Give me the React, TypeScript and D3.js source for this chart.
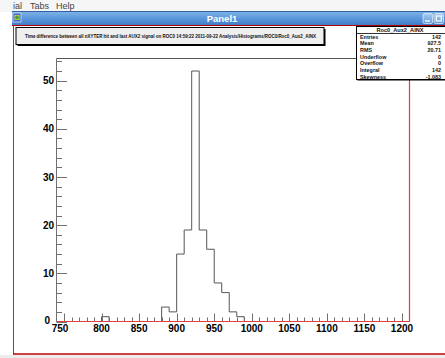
import React from "react";
import * as d3 from "d3";

// ---- data ----
const binStart = 740;
const binWidth = 10;
const counts = [
  0, 0, 0, 0, 0, 0, 1, 0, 0, 0, 0, 0, 0, 0, 3, 2, 14, 19, 52, 19, 15, 8, 6, 2, 1,
  0, 0, 0, 0, 0, 0, 0, 0, 0, 0, 0, 0, 0, 0, 0, 0, 0, 0, 0, 0, 0, 0,
];
const xDomain = [740, 1210];
const yDomain = [0, 54.6];
const statsTitle = "Roc0_Aux2_AINX";
const statLabels = ["Entries", "Mean", "RMS", "Underflow", "Overflow", "Integral", "Skewness"];
const statValues = ["142", "927.5", "20.71", "0", "0", "142", "-1.083"];
const titleText =
  "Time difference between all nXYTER hit and last AUX2 signal on ROC0  14:59:22  2011-09-22  Analysis/Histograms/ROC0/Roc0_Aux2_AINX";
const menuItems = ["ial", "Tabs", "Help"];
const windowTitle = "Panel1";

const W = 445;
const H = 358;
const fx0 = 56.5, fx1 = 409.5, fy0 = 58.5, fy1 = 321.5;

export default function App() {
  const x = d3.scaleLinear().domain(xDomain).range([fx0, fx1]);
  const y = d3.scaleLinear().domain(yDomain).range([fy1, fy0]);

  const pts: [number, number][] = [[x(xDomain[0]), y(0)]];
  counts.forEach((c, i) => {
    const lo = binStart + i * binWidth;
    const hi = lo + binWidth;
    pts.push([x(lo), y(c)]);
    pts.push([x(hi), y(c)]);
  });
  pts.push([x(xDomain[1]), y(0)]);
  const histPath = d3.line()(pts) || "";

  const xMajor = x.ticks(10);
  const xMinor = x.ticks(50).filter((t) => !xMajor.includes(t) && t > xDomain[0] && t < xDomain[1]);
  const yMajor = y.ticks(6);
  const yMinor = y.ticks(30).filter((t) => !yMajor.includes(t) && t > 0);

  const axisCol = "#707070";
  const frameRed = "#e04040";
  const font = "'Liberation Sans', Arial, sans-serif";
  const menuX = [13, 30, 56];

  return (
    <svg
      width={W}
      height={H}
      style={{ position: "absolute", left: 0, top: 0, background: "#fff" }}
      fontFamily={font}
    >
      <defs>
        <linearGradient id="tb" x1="0" y1="0" x2="0" y2="1">
          <stop offset="0" stopColor="#7fb3e8" />
          <stop offset="0.5" stopColor="#5a96da" />
          <stop offset="1" stopColor="#3f7bc6" />
        </linearGradient>
        <linearGradient id="btn" x1="0" y1="0" x2="0" y2="1">
          <stop offset="0" stopColor="#a9cdf2" />
          <stop offset="1" stopColor="#5f9ada" />
        </linearGradient>
      </defs>
      {/* menu bar */}
      <rect x={0} y={0} width={W} height={12} fill="#f6f6f6" />
      {menuItems.map((m, i) => (
        <text key={m} x={menuX[i]} y={8.5} fontSize={9} fill="#444">
          {m}
        </text>
      ))}
      {/* title bar */}
      <rect x={12} y={11.5} width={W - 12} height={14} fill="url(#tb)" />
      <line x1={12} x2={W} y1={11.5} y2={11.5} stroke="#2f5f9f" />
      <rect x={13} y={13} width={8} height={9} fill="#3d6fcf" stroke="#fff" strokeWidth={0.6} />
      <rect x={14.5} y={15} width={5} height={5} fill="#e8d040" />
      <circle cx={17} cy={17.5} r={2} fill="#40a040" />
      <text x={222} y={21.5} fontSize={9.5} fontWeight="bold" fill="#fff" textAnchor="middle">
        {windowTitle}
      </text>
      <rect x={423} y={13.5} width={9.5} height={10} rx={1.5} fill="url(#btn)" stroke="#e8f1fb" strokeWidth={0.7} />
      <line x1={425} x2={430} y1={21} y2={21} stroke="#fff" strokeWidth={1.4} />
      <rect x={434} y={13.5} width={9.5} height={10} rx={1.5} fill="url(#btn)" stroke="#e8f1fb" strokeWidth={0.7} />
      <rect x={436.3} y={16} width={5} height={5} fill="none" stroke="#fff" strokeWidth={1.2} />

      {/* canvas border */}
      <line x1={12} x2={W} y1={25.5} y2={25.5} stroke="#b00000" strokeWidth={1.2} />
      <line x1={13.5} x2={13.5} y1={25.5} y2={354} stroke="#d02020" />
      <line x1={13} x2={W} y1={354} y2={354} stroke="#c00000" strokeWidth={1.4} />
      <rect x={0} y={355} width={W} height={3} fill="#ececec" />

      {/* histogram */}
      <path d={histPath} fill="none" stroke="#555" strokeWidth={1} />

      {/* frame top & y axis */}
      <line x1={fx0} x2={fx1} y1={fy0} y2={fy0} stroke="#555" />
      <line x1={fx0} x2={fx0} y1={fy0} y2={fy1} stroke={axisCol} />

      {/* y ticks */}
      {yMajor.map((t) => (
        <line key={"ym" + t} x1={fx0} x2={fx0 + 10.5} y1={Math.round(y(t)) + 0.5} y2={Math.round(y(t)) + 0.5} stroke={axisCol} />
      ))}
      {yMinor.map((t) => (
        <line key={"yn" + t} x1={fx0} x2={fx0 + 5.5} y1={Math.round(y(t)) + 0.5} y2={Math.round(y(t)) + 0.5} stroke={axisCol} />
      ))}
      {yMajor.map((t) => (
        <text
          key={"yl" + t}
          x={t === 0 ? 50 : 54}
          y={y(t) + (t === 0 ? 2.5 : 3.6)}
          fontSize={10}
          fontWeight="bold"
          textAnchor="end"
          fill="#000"
        >
          {t}
        </text>
      ))}

      {/* x ticks */}
      {xMajor.map((t) => (
        <line key={"xm" + t} x1={Math.round(x(t)) + 0.5} x2={Math.round(x(t)) + 0.5} y1={fy1} y2={fy1 - 8} stroke={axisCol} />
      ))}
      {xMinor.map((t) => (
        <line key={"xn" + t} x1={Math.round(x(t)) + 0.5} x2={Math.round(x(t)) + 0.5} y1={fy1} y2={fy1 - 4} stroke={axisCol} />
      ))}
      {xMajor.map((t, i) => (
        <text
          key={"xl" + t}
          x={x(t) - (i === 0 ? 4 : 0)}
          y={332}
          fontSize={10}
          fontWeight="bold"
          textAnchor="middle"
          fill="#000"
        >
          {t}
        </text>
      ))}

      {/* highlighted frame right & bottom */}
      <line x1={fx0} x2={fx1} y1={fy1} y2={fy1} stroke={frameRed} strokeWidth={1.2} />
      <line x1={fx1} x2={fx1} y1={fy0} y2={fy1} stroke={frameRed} strokeWidth={1.2} />

      {/* title box */}
      <rect x={17.5} y={29} width={308} height={17} fill="#000" />
      <rect x={16} y={27.5} width={308} height={17} fill="#efefef" stroke="#000" strokeWidth={1} />
      <text
        x={25}
        y={38.3}
        fontSize={5}
        fontWeight="bold"
        fill="#111"
        textLength={291}
        lengthAdjust="spacingAndGlyphs"
      >
        {titleText}
      </text>

      {/* stats box */}
      <rect x={357.5} y={27.5} width={90} height={53} fill="#000" />
      <rect x={356.5} y={26.5} width={90} height={53} fill="#fff" stroke="#000" strokeWidth={1} />
      <line x1={356.5} x2={W} y1={33.5} y2={33.5} stroke="#000" strokeWidth={0.8} />
      <text x={400} y={32.2} fontSize={5.6} fontWeight="bold" textAnchor="middle" fill="#111">
        {statsTitle}
      </text>
      {statLabels.map((l, i) => (
        <g key={l}>
          <text x={360} y={38.6 + i * 6.65} fontSize={5.4} fontWeight="bold" fill="#111">
            {l}
          </text>
          <text x={441} y={38.6 + i * 6.65} fontSize={5.4} fontWeight="bold" fill="#111" textAnchor="end">
            {statValues[i]}
          </text>
        </g>
      ))}
    </svg>
  );
}
